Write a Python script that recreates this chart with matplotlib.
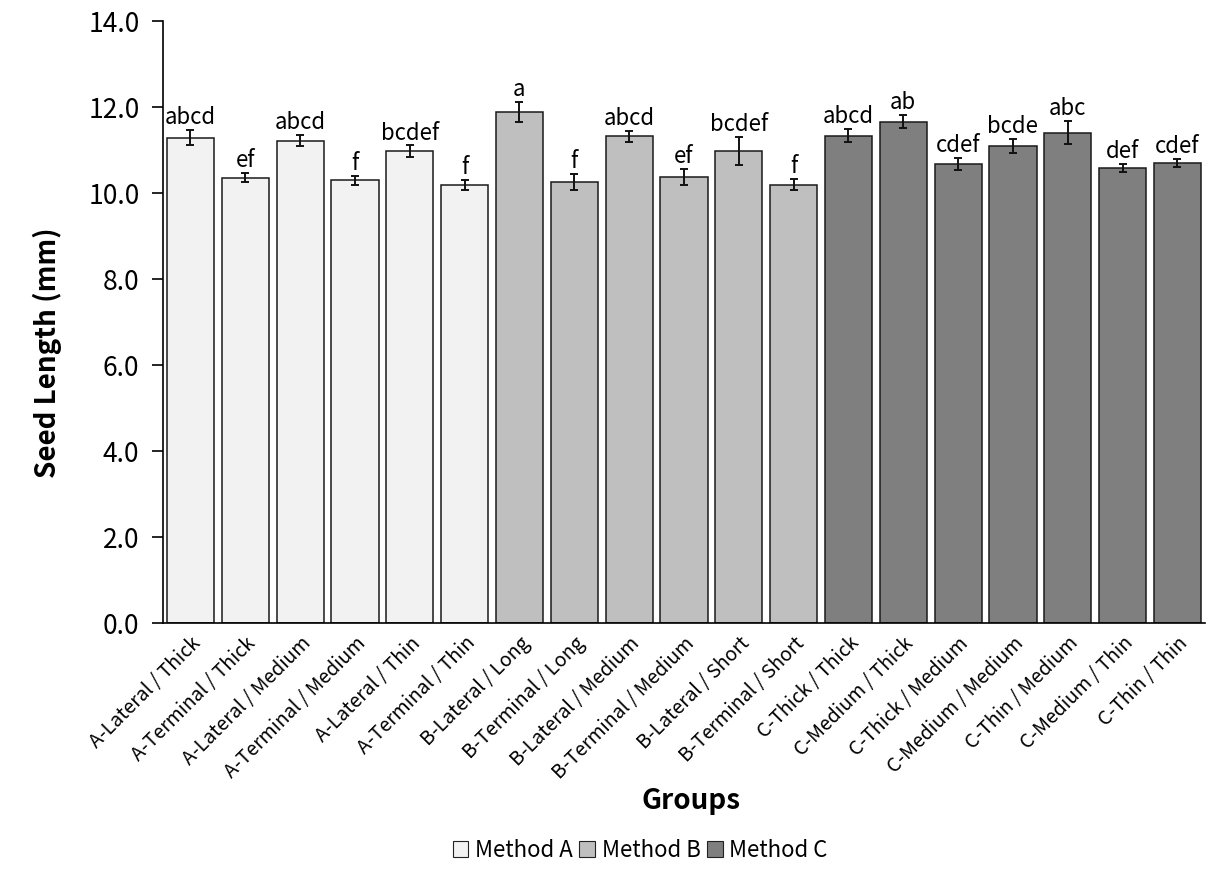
import matplotlib
matplotlib.use("Agg")
import matplotlib.pyplot as plt
from matplotlib.patches import Patch

plt.rcParams['font.family'] = ['Noto Sans CJK KR', 'DejaVu Sans']

groups = ["A-Lateral / Thick", "A-Terminal / Thick", "A-Lateral / Medium", "A-Terminal / Medium",
          "A-Lateral / Thin", "A-Terminal / Thin", "B-Lateral / Long", "B-Terminal / Long",
          "B-Lateral / Medium", "B-Terminal / Medium", "B-Lateral / Short", "B-Terminal / Short",
          "C-Thick / Thick", "C-Medium / Thick", "C-Thick / Medium", "C-Medium / Medium",
          "C-Thin / Medium", "C-Medium / Thin", "C-Thin / Thin"]
methods = ["A"] * 6 + ["B"] * 6 + ["C"] * 7
means = [11.29, 10.36, 11.22, 10.30, 10.98, 10.19,
         11.89, 10.26, 11.32, 10.37, 10.98, 10.20,
         11.34, 11.66, 10.68, 11.10, 11.41, 10.58, 10.70]
errors = [0.18, 0.11, 0.13, 0.10, 0.13, 0.12,
          0.23, 0.19, 0.12, 0.19, 0.33, 0.13,
          0.16, 0.15, 0.14, 0.16, 0.27, 0.09, 0.09]
letters = ["abcd", "ef", "abcd", "f", "bcdef", "f",
           "a", "f", "abcd", "ef", "bcdef", "f",
           "abcd", "ab", "cdef", "bcde", "abc", "def", "cdef"]
method_colors = {"A": "#f2f2f2", "B": "#bfbfbf", "C": "#7f7f7f"}
yticks = [0, 2, 4, 6, 8, 10, 12, 14]

fig = plt.figure(figsize=(12.17, 8.71), dpi=100)
ax = fig.add_axes([0.134, 0.2847, 0.856, 0.691])

x = list(range(len(groups)))
colors = [method_colors[m] for m in methods]
ax.bar(x, means, width=0.86, color=colors, edgecolor="#1a1a1a", linewidth=1.1,
       yerr=errors, error_kw=dict(ecolor="#111111", elinewidth=1.4, capsize=3, capthick=1.4))

for xi, m, e, lab in zip(x, means, errors, letters):
    ax.text(xi, m + e + 0.02, lab, ha="center", va="bottom", fontsize=16)

ax.set_xlim(-0.5, len(groups) - 0.5)
ax.set_ylim(0, 14)
ax.set_yticks(yticks)
ax.set_yticklabels([f"{v:.1f}" for v in yticks], fontsize=19)
ax.set_xticks(x)
ax.set_xticklabels(groups, rotation=45, ha="right", rotation_mode="anchor", fontsize=14)
ax.tick_params(axis="x", length=0, pad=7)
ax.tick_params(axis="y", length=8, width=1.2, direction="out", pad=9)

for s in ["top", "right"]:
    ax.spines[s].set_visible(False)
ax.spines["left"].set_linewidth(1.2)
ax.spines["bottom"].set_linewidth(1.2)

ax.set_ylabel("Seed Length (mm)", fontsize=20, fontweight="bold")
ax.yaxis.set_label_coords(-0.097, 0.45)
ax.set_xlabel("Groups", fontsize=20, fontweight="bold", va="top")
ax.xaxis.set_label_coords(0.507, -0.272)

handles = [Patch(facecolor=method_colors[k], edgecolor="#222222", linewidth=0.8) for k in ["A", "B", "C"]]
fig.legend(handles, ["Method A", "Method B", "Method C"], loc="center", bbox_to_anchor=(0.526, 0.024),
           ncol=3, frameon=False, fontsize=16, handlelength=0.7, handleheight=0.7,
           handletextpad=0.3, columnspacing=0.3, borderpad=0)

fig.savefig("out.png", dpi=100)
